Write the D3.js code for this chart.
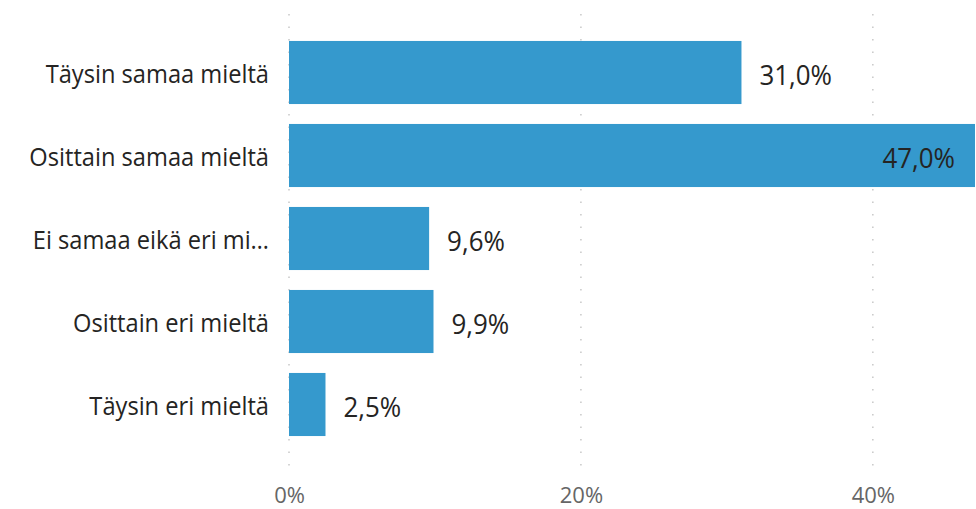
<!DOCTYPE html>
<html>
<head>
<meta charset="utf-8">
<script src="https://cdn.jsdelivr.net/npm/d3@7"></script>
<style>
    body { margin: 0; background: #fff; }
    svg { display: block; font-family: "Open Sans", "Noto Sans", sans-serif; }
</style>
</head>
<body>
<svg id="chart" width="976" height="509"></svg>
<script>
// vastausvaihtoehdot ja osuudet
var categories = ['Täysin samaa mieltä', 'Osittain samaa mieltä', 'Ei samaa eikä eri mi…', 'Osittain eri mieltä', 'Täysin eri mieltä'];
var values = [0.310, 0.470, 0.096, 0.099, 0.025];
var ticks = [0, 0.2, 0.4];

var width = 976;
var height = 509;
var fontFamily = '"Open Sans", "Noto Sans", sans-serif';

var svg = d3.select('#chart');

var x = d3.scaleLinear()
    .domain([0, 0.47])
    .range([289, 975]);

var y = d3.scaleBand()
    .domain(categories)
    .range([31, 446])
    .paddingInner(0.24)
    .paddingOuter(0.12);

var fmt = function (v) {
    return (v * 100).toFixed(1).replace('.', ',') + '%';
};

// pisteviivat
svg.append('g')
    .selectAll('line')
    .data(ticks)
    .enter()
    .append('line')
    .attr('x1', function (d) { return x(d); })
    .attr('x2', function (d) { return x(d); })
    .attr('y1', 14)
    .attr('y2', 472)
    .attr('stroke', '#c8c8c8')
    .attr('stroke-width', 1.5)
    .attr('stroke-dasharray', '1.5,11');

// x-akseli
var xAxis = d3.axisBottom(x)
    .tickValues(ticks)
    .tickFormat(function (d) { return Math.round(d * 100) + '%'; })
    .tickSize(0)
    .tickPadding(0);

var gx = svg.append('g')
    .attr('transform', 'translate(0,503)')
    .call(xAxis);
gx.select('.domain').remove();
gx.selectAll('text')
    .attr('fill', '#666666')
    .attr('font-size', 22)
    .attr('y', 0)
    .attr('dy', 0)
    .style('font-family', fontFamily);

// y-akseli
var yAxis = d3.axisLeft(y)
    .tickSize(0)
    .tickPadding(0);

var gy = svg.append('g')
    .attr('transform', 'translate(269,0)')
    .call(yAxis);
gy.select('.domain').remove();
gy.selectAll('text')
    .attr('fill', '#252423')
    .attr('font-size', 26)
    .attr('x', 0)
    .attr('y', 0)
    .attr('dy', 0)
    .attr('transform', 'translate(0,10) scale(0.91,1)')
    .style('font-family', fontFamily);

// palkit
var rows = categories.map(function (c, i) {
    return { cat: c, value: values[i] };
});

svg.append('g')
    .selectAll('rect')
    .data(rows)
    .enter()
    .append('rect')
    .attr('x', x(0))
    .attr('y', function (d) { return y(d.cat); })
    .attr('width', function (d) { return x(d.value) - x(0); })
    .attr('height', y.bandwidth())
    .attr('fill', '#3599cd');

// arvot
var inside = function (d) {
    return x(d.value) + 100 > width;
};

svg.append('g')
    .selectAll('text')
    .data(rows)
    .enter()
    .append('text')
    .attr('transform', function (d) {
        var tx = inside(d) ? x(d.value) - 20 : x(d.value) + 18;
        var ty = y(d.cat) + y.bandwidth() / 2 + 12;
        return 'translate(' + tx + ',' + ty + ') scale(0.96,1)';
    })
    .attr('text-anchor', function (d) { return inside(d) ? 'end' : 'start'; })
    .attr('font-size', 27)
    .attr('fill', '#252423')
    .text(function (d) { return fmt(d.value); });
</script>
</body>
</html>
